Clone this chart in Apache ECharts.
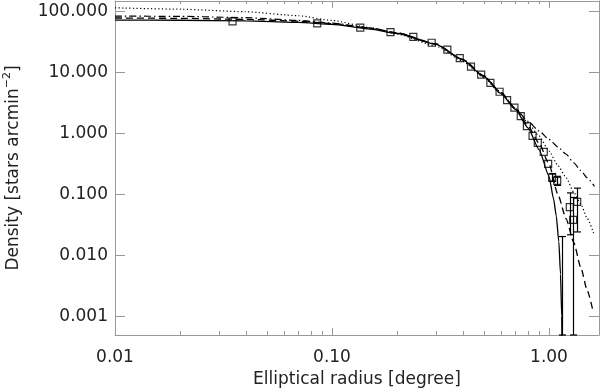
<!DOCTYPE html>
<html>
<head>
<meta charset="utf-8">
<script src="https://cdn.jsdelivr.net/npm/echarts@6/dist/echarts.min.js"></script>
<style>
html, body { margin: 0; background: #fff; }
#main { width: 600px; height: 390px; }
</style>
</head>
<body>
<div id="main"></div>
<script>
// measured points (elliptical radius in degree, density in stars/arcmin^2)
let ptX = [0.0348, 0.0855, 0.135, 0.186, 0.237, 0.288, 0.340, 0.388, 0.437, 0.487, 0.537, 0.592, 0.641, 0.693, 0.741, 0.791, 0.840, 0.888, 0.946, 0.991, 1.034, 1.091, 1.247, 1.292, 1.349]
let ptY = [69.6, 64.6, 55, 46.2, 38.8, 31.0, 23.9, 17.3, 12.6, 9.28, 6.81, 4.87, 3.56, 2.68, 1.94, 1.33, 0.918, 0.707, 0.505, 0.319, 0.191, 0.169, 0.0625, 0.0385, 0.0762]

// error bars (only the visible ones), low 0.00001 = goes below the axis
let errX = [1.034, 1.091, 1.153, 1.247, 1.292, 1.349]
let errLo = [0.165, 0.142, 0.00001, 0.022, 0.00001, 0.0245]
let errHi = [0.222, 0.2, 0.0206, 0.107, 0.09, 0.128]

// model curves
let solidX = [0.01, 0.02, 0.04, 0.07, 0.1, 0.15, 0.2, 0.3, 0.4, 0.5, 0.6, 0.7, 0.8, 0.9, 1.0, 1.05, 1.08, 1.11, 1.13, 1.145, 1.152]
let solidY = [73, 72.5, 71, 67, 62, 52, 44, 29.5, 16.3, 8.7, 4.6, 2.5, 1.25, 0.55, 0.2, 0.085, 0.045, 0.017, 0.005, 0.001, 0.00005]

let dashX = [0.01, 0.02, 0.04, 0.07, 0.1, 0.15, 0.2, 0.3, 0.4, 0.5, 0.6, 0.7, 0.8, 0.9, 1.0, 1.1, 1.2, 1.3, 1.4, 1.5, 1.6]
let dashY = [79, 78, 75, 70, 64, 54, 45, 30, 16.5, 8.8, 4.7, 2.6, 1.35, 0.7, 0.32, 0.1, 0.04, 0.0165, 0.0065, 0.0027, 0.00118]

let dotX = [0.01, 0.02, 0.04, 0.07, 0.1, 0.15, 0.2, 0.3, 0.4, 0.5, 0.6, 0.7, 0.8, 0.9, 1.0, 1.1, 1.2, 1.3, 1.4, 1.5, 1.62]
let dotY = [116, 110, 100, 86, 72, 55, 43, 27.5, 15.5, 8.4, 4.5, 2.6, 1.5, 0.92, 0.52, 0.3, 0.19, 0.11, 0.071, 0.041, 0.0212]

let ddX = [0.01, 0.02, 0.04, 0.07, 0.1, 0.15, 0.2, 0.3, 0.4, 0.5, 0.6, 0.7, 0.8, 0.9, 1.0, 1.1, 1.2, 1.3, 1.4, 1.5, 1.62]
let ddY = [85, 84, 80, 72, 65, 54, 45, 29.5, 16.6, 9, 4.8, 2.6, 1.6, 1.11, 0.81, 0.605, 0.46, 0.334, 0.249, 0.189, 0.137]

// minor ticks on the radius axis
let minorX = [0.02, 0.03, 0.04, 0.05, 0.06, 0.07, 0.08, 0.09, 0.2, 0.3, 0.4, 0.5, 0.6, 0.7, 0.8, 0.9]

function zip(a, b) {
	let out = []
	for (let i = 0; i < a.length; i++) out.push([a[i], b[i]])
	return out
}

function isDecade(v) {
	let l = Math.log10(v)
	return Math.abs(l - Math.round(l)) < 1e-6
}

let font = 'DejaVu Sans'
let txt = '#222'
let axisCol = '#999'

let myChart = echarts.init(document.getElementById('main'))

let option = {
	animation: false,
	backgroundColor: '#fff',
	grid: {
		left: 115,
		right: 1,
		top: 1,
		bottom: 55,
		containLabel: false,
		outerBoundsMode: 'none'
	},
	xAxis: [{
		type: 'log',
		logBase: 10,
		min: 0.01,
		max: 1.7,
		position: 'bottom',
		axisLine: { lineStyle: { color: axisCol, width: 1 } },
		axisTick: { inside: true, length: 7, lineStyle: { color: axisCol } },
		splitLine: { show: false },
		axisLabel: {
			margin: 14,
			color: txt,
			fontFamily: font,
			fontSize: 17,
			formatter: function(v) { return isDecade(v) ? v.toFixed(2) : '' }
		},
		name: 'Elliptical radius [degree]',
		nameLocation: 'middle',
		nameGap: 35,
		nameTextStyle: { color: txt, fontFamily: font, fontSize: 17 }
	}, {
		type: 'log',
		logBase: 10,
		min: 0.01,
		max: 1.7,
		position: 'top',
		axisLine: { lineStyle: { color: axisCol, width: 1 } },
		axisTick: { inside: true, length: 7, lineStyle: { color: axisCol } },
		axisLabel: { show: false },
		splitLine: { show: false }
	}],
	yAxis: [{
		type: 'log',
		logBase: 10,
		min: 0.0005,
		max: 150,
		position: 'left',
		axisLine: { show: true, lineStyle: { color: axisCol, width: 1 } },
		axisTick: { show: true, inside: true, length: 10, lineStyle: { color: axisCol } },
		splitLine: { show: false },
		axisLabel: {
			margin: 7,
			color: txt,
			fontFamily: font,
			fontSize: 17,
			formatter: function(v) { return isDecade(v) ? v.toFixed(3) : '' }
		},
		name: '{a|Density [stars arcmin}{s|−2}{a|]}',
		nameLocation: 'middle',
		nameGap: 89,
		nameTextStyle: {
			rich: {
				a: { color: txt, fontFamily: font, fontSize: 17, lineHeight: 24 },
				s: { color: txt, fontFamily: font, fontSize: 11, verticalAlign: 'top', lineHeight: 24 }
			}
		}
	}, {
		type: 'log',
		logBase: 10,
		min: 0.0005,
		max: 150,
		position: 'right',
		axisLine: { show: true, lineStyle: { color: axisCol, width: 1 } },
		axisTick: { show: true, inside: true, length: 10, lineStyle: { color: axisCol } },
		axisLabel: { show: false },
		splitLine: { show: false }
	}],
	series: [
		{
			type: 'line', data: zip(dotX, dotY), symbol: 'none', smooth: 0.2, smoothMonotone: 'x',
			lineStyle: { color: '#000', width: 1.2, type: [1.2, 2.4] }
		},
		{
			type: 'line', data: zip(ddX, ddY), symbol: 'none', smooth: 0.2, smoothMonotone: 'x',
			lineStyle: { color: '#000', width: 1.2, type: [7, 3, 1.5, 3] }
		},
		{
			type: 'line', data: zip(dashX, dashY), symbol: 'none', smooth: 0.2, smoothMonotone: 'x',
			lineStyle: { color: '#000', width: 1.3, type: [7, 4] }
		},
		{
			type: 'line', data: zip(solidX, solidY), symbol: 'none', smooth: 0.2, smoothMonotone: 'x',
			lineStyle: { color: '#000', width: 1.3 }
		},
		{
			type: 'scatter', data: zip(ptX, ptY), symbol: 'rect', symbolSize: 7, z: 4,
			itemStyle: { color: 'none', borderColor: '#000', borderWidth: 1.2 }
		},
		{
			type: 'custom', z: 5,
			data: errX.map(function(x, i) { return [x, errLo[i], errHi[i]] }),
			encode: { x: 0, y: [1, 2] },
			renderItem: function(params, api) {
				let cs = params.coordSys
				let top = api.coord([api.value(0), api.value(2)])
				let bot = api.coord([api.value(0), api.value(1)])
				let y1 = Math.max(top[1], cs.y)
				let y2 = Math.min(bot[1], cs.y + cs.height)
				let x = Math.round(top[0]) + 0.5
				let st = { stroke: '#000', lineWidth: 1.2 }
				return {
					type: 'group',
					children: [
						{ type: 'line', shape: { x1: x, y1: y1, x2: x, y2: y2 }, style: st },
						{ type: 'line', shape: { x1: x - 3.5, y1: y1, x2: x + 3.5, y2: y1 }, style: st },
						{ type: 'line', shape: { x1: x - 3.5, y1: y2, x2: x + 3.5, y2: y2 }, style: st }
					]
				}
			}
		},
		{
			// minor ticks top and bottom
			type: 'custom', z: 1, silent: true,
			data: minorX.map(function(x) { return [x, 1] }),
			encode: { x: 0, y: 1 },
			renderItem: function(params, api) {
				let cs = params.coordSys
				let x = Math.round(api.coord([api.value(0), 1])[0]) + 0.5
				let st = { stroke: axisCol, lineWidth: 1 }
				let b = cs.y + cs.height
				return {
					type: 'group',
					children: [
						{ type: 'line', shape: { x1: x, y1: b, x2: x, y2: b - 4 }, style: st },
						{ type: 'line', shape: { x1: x, y1: cs.y, x2: x, y2: cs.y + 3 }, style: st }
					]
				}
			}
		}
	]
}

myChart.setOption(option)
</script>
</body>
</html>
